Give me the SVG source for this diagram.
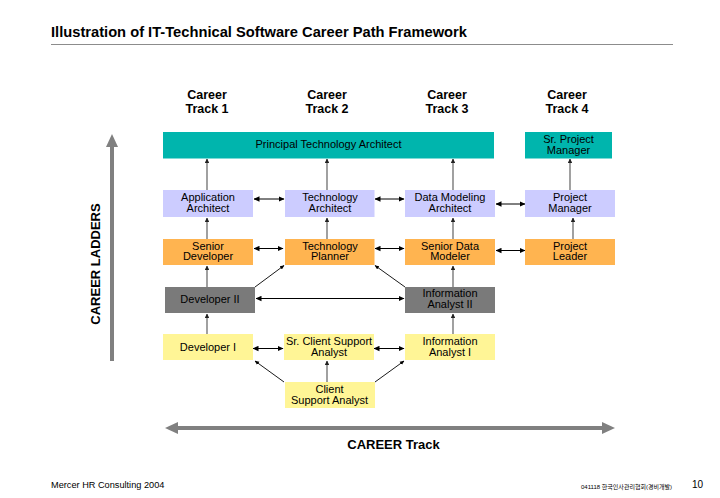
<svg xmlns="http://www.w3.org/2000/svg" width="720" height="498" viewBox="0 0 720 498">
<style>
text{font-family:"Liberation Sans",Arial,"Noto Sans CJK KR",sans-serif;fill:#000}
.n{font-size:11px;text-anchor:middle}
.h{font-size:12.500px;font-weight:bold;text-anchor:middle}
.v{stroke:#6e6e6e;stroke-width:1.3;fill:none;marker-end:url(#ag)}
.d{stroke:#000;stroke-width:1;fill:none;marker-start:url(#ab);marker-end:url(#ab)}
.s{stroke:#000;stroke-width:.9;fill:none;marker-end:url(#as)}
.big{stroke:#808080;stroke-width:4;fill:none}
.teal{fill:#00b5ad}.lav{fill:#ccccff}.org{fill:#ffb450}.gry{fill:#7a7a7a}.yel{fill:#fff596}
</style>
<defs>
<marker id="ab" viewBox="0 0 6 6" refX="5.500" refY="3" markerWidth="6" markerHeight="6" markerUnits="userSpaceOnUse" orient="auto-start-reverse"><path d="M0 .3L6 3L0 5.700z" fill="#000"/></marker>
<marker id="as" viewBox="0 0 5 5" refX="4.500" refY="2.500" markerWidth="4.500" markerHeight="4.500" markerUnits="userSpaceOnUse" orient="auto"><path d="M0 .3L5 2.500L0 4.700z" fill="#000"/></marker>
<marker id="ag" viewBox="0 0 5 5" refX="4.500" refY="2.500" markerWidth="4.500" markerHeight="4.500" markerUnits="userSpaceOnUse" orient="auto"><path d="M0 0L5 2.500L0 5z" fill="#222"/></marker>
</defs>
<rect width="720" height="498" fill="#fff"/>
<text x="51" y="37" font-size="14.700" font-weight="bold">Illustration of IT-Technical Software Career Path Framework</text>
<line x1="51" y1="44.500" x2="673" y2="44.500" stroke="#8c8c8c" stroke-width="1"/>
<g id="track-headers">
<text class="h" x="207" y="99">Career</text><text class="h" x="207" y="113">Track 1</text>
<text class="h" x="327" y="99">Career</text><text class="h" x="327" y="113">Track 2</text>
<text class="h" x="447" y="99">Career</text><text class="h" x="447" y="113">Track 3</text>
<text class="h" x="567" y="99">Career</text><text class="h" x="567" y="113">Track 4</text>
</g>
<g id="connectors">
<path class="v" d="M207 190V159"/><path class="v" d="M327 190V159"/><path class="v" d="M453 190V159"/><path class="v" d="M570 190V159"/>
<path class="v" d="M207 239V218"/><path class="v" d="M327 239V218"/><path class="v" d="M453 239V218"/><path class="v" d="M573 239V218"/>
<path class="v" d="M207 287V266"/><path class="v" d="M453 287V266"/>
<path class="v" d="M207 334V314"/><path class="v" d="M453 334V314"/>
<path class="v" d="M327 382V361"/>
<path class="d" d="M254 199H284"/><path class="d" d="M375 199H404"/><path class="d" d="M496 204H525"/>
<path class="d" d="M254 248.500H283"/><path class="d" d="M375 248.500H404"/><path class="d" d="M496 250.500H525"/>
<path class="d" d="M256 298.500H404"/>
<path class="d" d="M253 348.500H283"/><path class="d" d="M374 348.500H404"/>
<path class="s" d="M255 287L284 265.500"/><path class="s" d="M405 287L375 265.500"/>
<path class="s" d="M284 382L255 361"/><path class="s" d="M375 382L404 361"/>
</g>
<g id="principal"><rect class="teal" x="163" y="132" width="331" height="26.500"/><text class="n" x="328.500" y="148">Principal Technology Architect</text></g>
<g id="sr-project-manager"><rect class="teal" x="525" y="132" width="87" height="26.500"/><text class="n" x="568.500" y="143">Sr. Project</text><text class="n" x="568.500" y="153.500">Manager</text></g>
<g id="application-architect"><rect class="lav" x="163" y="190" width="90" height="27"/><text class="n" x="208" y="201">Application</text><text class="n" x="208" y="211.500">Architect</text></g>
<g id="technology-architect"><rect class="lav" x="285" y="190" width="89.500" height="27"/><text class="n" x="330" y="201">Technology</text><text class="n" x="330" y="211.500">Architect</text></g>
<g id="data-modeling-architect"><rect class="lav" x="405" y="190" width="90" height="27"/><text class="n" x="450" y="201">Data Modeling</text><text class="n" x="450" y="211.500">Architect</text></g>
<g id="project-manager"><rect class="lav" x="525" y="190" width="90" height="27"/><text class="n" x="570" y="201">Project</text><text class="n" x="570" y="211.500">Manager</text></g>
<g id="senior-developer"><rect class="org" x="163" y="239" width="90" height="26"/><text class="n" x="208" y="249.500">Senior</text><text class="n" x="208" y="260">Developer</text></g>
<g id="technology-planner"><rect class="org" x="285" y="239" width="89.500" height="26"/><text class="n" x="330" y="249.500">Technology</text><text class="n" x="330" y="260">Planner</text></g>
<g id="senior-data-modeler"><rect class="org" x="405" y="239" width="90" height="26"/><text class="n" x="450" y="249.500">Senior Data</text><text class="n" x="450" y="260">Modeler</text></g>
<g id="project-leader"><rect class="org" x="525" y="239" width="90" height="26"/><text class="n" x="570" y="249.500">Project</text><text class="n" x="570" y="260">Leader</text></g>
<g id="developer-2"><rect class="gry" x="165" y="287" width="90" height="26"/><text class="n" x="210" y="302.500">Developer II</text></g>
<g id="information-analyst-2"><rect class="gry" x="405" y="287" width="90" height="26"/><text class="n" x="450" y="297">Information</text><text class="n" x="450" y="307.500">Analyst II</text></g>
<g id="developer-1"><rect class="yel" x="163" y="334" width="90" height="26"/><text class="n" x="208" y="350.500">Developer I</text></g>
<g id="sr-client-support-analyst"><rect class="yel" x="284" y="334" width="90" height="26"/><text class="n" x="329" y="345">Sr. Client Support</text><text class="n" x="329" y="355.500">Analyst</text></g>
<g id="information-analyst-1"><rect class="yel" x="405" y="334" width="90" height="26"/><text class="n" x="450" y="345">Information</text><text class="n" x="450" y="355.500">Analyst I</text></g>
<g id="client-support-analyst"><rect class="yel" x="285" y="382" width="90" height="26"/><text class="n" x="329.500" y="393">Client</text><text class="n" x="329.500" y="403.500">Support Analyst</text></g>
<g id="axes">
<line class="big" x1="112" y1="361" x2="112" y2="145"/><path d="M106 147L112 134L118 147z" fill="#808080"/>
<line class="big" x1="176" y1="428" x2="604" y2="428"/><path d="M178 422L165 428L178 434z" fill="#808080"/><path d="M602 422L615 428L602 434z" fill="#808080"/>
<text class="h" style="font-size:13px" transform="translate(100 264) rotate(-90)">CAREER LADDERS</text>
<text class="h" style="font-size:13px" x="393.500" y="449">CAREER Track</text>
</g>
<text x="51" y="488" font-size="9.200">Mercer HR Consulting 2004</text>
<text x="581" y="489" font-size="6">041118 한국인사관리협회(경비개발)</text>
<text x="692" y="488" font-size="10">10</text>
</svg>
